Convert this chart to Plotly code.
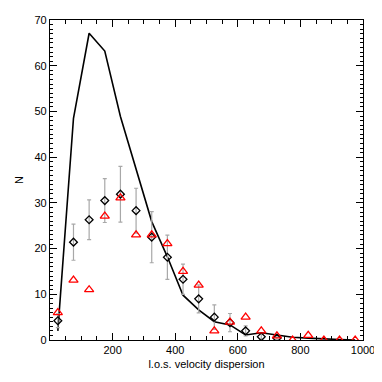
import plotly.graph_objects as go

# bin centres (l.o.s. velocity dispersion)
x_bins = [25, 75, 125, 175, 225, 275, 325, 375, 425, 475,
          525, 575, 625, 675, 725, 775, 825, 875, 925, 975]

# black solid line
line_vals = [2.0, 48.5, 67.1, 63.2, 48.9, 37.4, 25.9, 18.2, 9.8, 6.6,
             4.0, 3.3, 1.1, 1.6, 1.1, 0.6, 0.4, 0.2, 0.1, 0.0]

# black diamonds with grey error bars
diam_x = [25, 75, 125, 175, 225, 275, 325, 375, 425, 475, 525, 575, 625, 675, 725]
diam_vals = [4.2, 21.4, 26.3, 30.5, 31.9, 28.3, 22.5, 18.1, 13.3, 9.0, 5.0, 3.8, 2.0, 0.7, 0.4]
diam_err = [1.5, 3.95, 4.35, 4.8, 6.1, 4.9, 5.6, 4.85, 3.3, 3.05, 2.7, 2.0, 1.1, 0.5, 0.3]

# red open triangles
tri_vals = [6.0, 13.1, 11.0, 27.1, 31.1, 23.0, 23.0, 21.1, 15.0, 12.0,
            2.0, 3.9, 5.0, 2.0, 0.9, 0.0, 1.0, 0.0, 0.0, 0.0]

x_ticks = [200, 400, 600, 800, 1000]
y_ticks = [0, 10, 20, 30, 40, 50, 60, 70]

FONT = "Liberation Sans, Arial, sans-serif"

fig = go.Figure()

fig.add_trace(go.Scatter(
    x=x_bins, y=line_vals, mode="lines",
    line=dict(color="black", width=1.6), showlegend=False))

fig.add_trace(go.Scatter(
    x=diam_x, y=diam_vals, mode="markers",
    marker=dict(symbol="diamond-open", color="black", size=6, line=dict(width=1.3)),
    error_y=dict(type="data", array=diam_err, color="#a8a8a8", thickness=1.2, width=2),
    showlegend=False))

fig.add_trace(go.Scatter(
    x=x_bins, y=tri_vals, mode="markers",
    marker=dict(symbol="triangle-up-open", color="red", size=8, line=dict(width=1.3)),
    showlegend=False))

axis_common = dict(
    showgrid=False, zeroline=False, showline=True, linecolor="black", linewidth=1.2,
    ticks="inside", mirror="allticks", tickcolor="black", tickwidth=1,
    automargin=False,
    tickfont=dict(family=FONT, size=11, color="black"),
)

fig.update_xaxes(
    range=[0, 1000], tickmode="array", tickvals=x_ticks, ticklen=7,
    minor=dict(tickmode="linear", tick0=0, dtick=50, ticks="inside", ticklen=4,
               tickcolor="black", showgrid=False),
    title=dict(text="l.o.s. velocity dispersion", standoff=5,
               font=dict(family=FONT, size=11, color="black")),
    **axis_common)

fig.update_yaxes(
    range=[0, 70], tickmode="array", tickvals=y_ticks, ticklen=7,
    minor=dict(tickmode="linear", tick0=0, dtick=1, ticks="inside", ticklen=3,
               tickcolor="black", showgrid=False),
    title=dict(text="N", standoff=8,
               font=dict(family=FONT, size=11, color="black")),
    **axis_common)

# page body has an 8px margin, so the figure is sized to fit inside the 382px window
fig.update_layout(
    width=374, height=374,
    margin=dict(l=42, r=19, t=12, b=42, autoexpand=False),
    plot_bgcolor="white", paper_bgcolor="white",
)

fig.write_html("out.html")
